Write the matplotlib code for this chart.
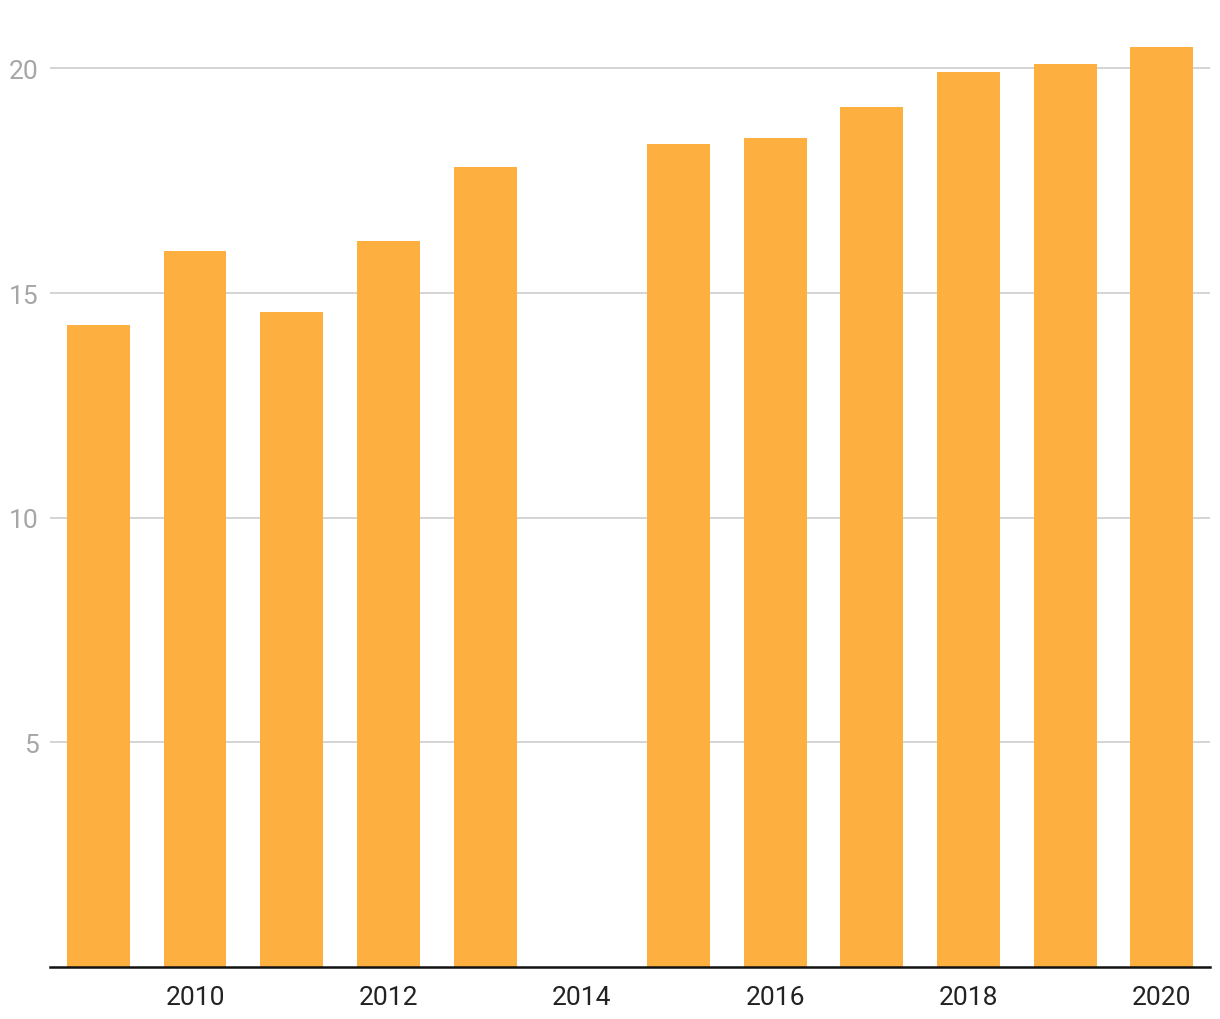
import matplotlib.pyplot as plt
import numpy as np

plt.rcParams['font.family'] = ['Roboto', 'DejaVu Sans']

years = [2009, 2010, 2011, 2012, 2013, 2015, 2016, 2017, 2018, 2019, 2020]
values = [14.28, 15.93, 14.57, 16.15, 17.80, 18.31, 18.44, 19.15, 19.93, 20.09, 20.47]
xticks = [2010, 2012, 2014, 2016, 2018, 2020]
yticks = [5, 10, 15, 20]

fig = plt.figure(figsize=(12.2, 10.2), dpi=100)
ax = fig.add_axes([0.041, 0.051, 0.951, 0.925])

ax.bar(years, values, width=0.65, color='#fdaf3f', zorder=3)

ax.set_xlim(2008.5, 2020.5)
ax.set_ylim(0, 21)
ax.set_xticks(xticks)
ax.set_xticklabels([str(t) for t in xticks])
ax.set_yticks(yticks)

ax.grid(axis='y', color='#d4d4d4', linewidth=1.4, zorder=0)
for s in ['top', 'right', 'left']:
    ax.spines[s].set_visible(False)
ax.spines['bottom'].set_linewidth(1.8)
ax.spines['bottom'].set_color('#111111')
ax.spines['bottom'].set_zorder(4)

ax.tick_params(axis='y', length=0, pad=8, labelsize=19, labelcolor='#a6a6a6')
ax.tick_params(axis='x', length=0, pad=13, labelsize=19, labelcolor='#222222')

fig.savefig('out.png', dpi=100)
